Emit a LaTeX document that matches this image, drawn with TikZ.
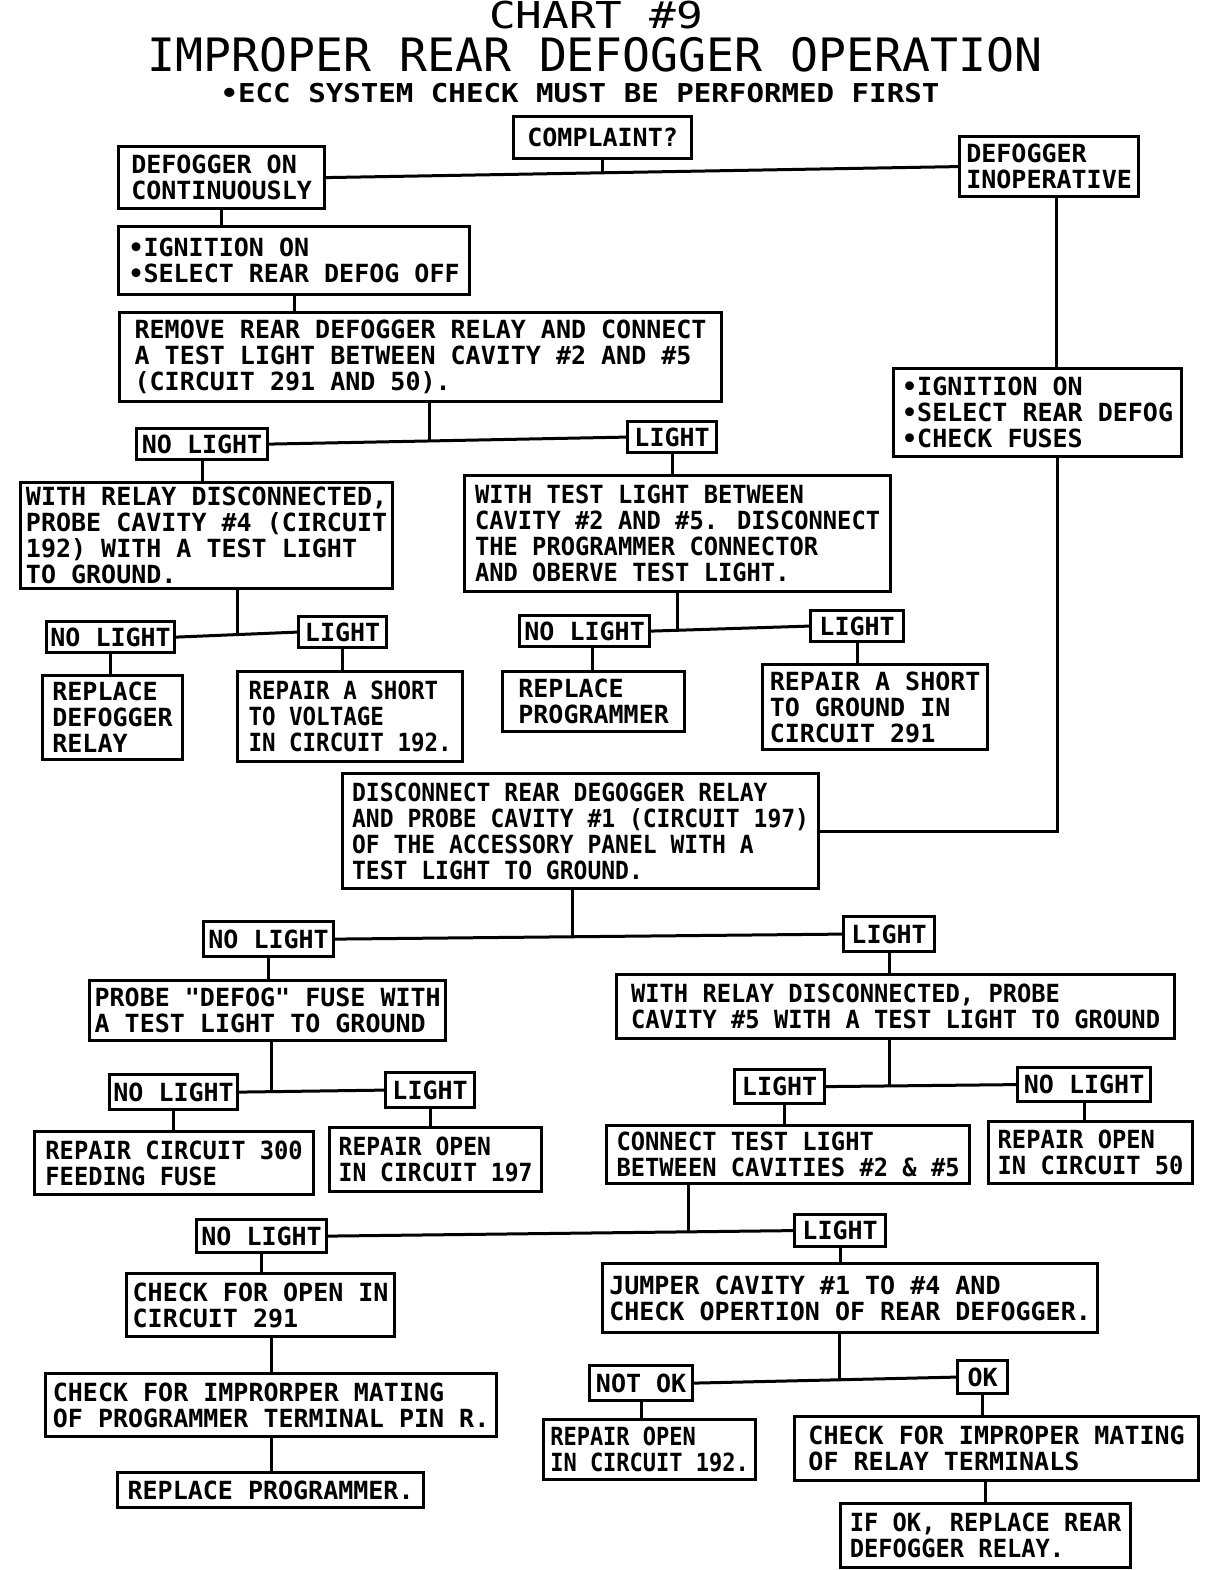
\documentclass[tikz,border=0pt]{standalone}
\usepackage{fontspec}
\usetikzlibrary{calc}
\newfontfamily\dvmbold{DejaVu Sans Mono Bold}
\newfontfamily\dvmchart[FakeStretch=1.2]{DejaVu Sans Mono}
\newfontfamily\dvmhead[FakeStretch=1.01]{DejaVu Sans Mono}
\newfontfamily\dvmsub[FakeStretch=1.12]{DejaVu Sans Mono Bold}
\newcommand\bxfont{\dvmbold\fontsize{25}{26}\selectfont}
\tikzset{
  bx/.style={draw, line width=3.2pt, inner xsep=5pt, inner ysep=3pt, align=left,
             font=\bxfont, anchor=north west},
  lbl/.style={bx, inner xsep=3pt, align=center},
  sq/.style={font={\bxfont\addfontfeature{FakeStretch=#1}}},
  ln/.style={line width=3pt, line cap=rect},
}
\begin{document}
\begin{tikzpicture}[x=1pt,y=-1pt]
\useasboundingbox (0,0) rectangle (1216,1570);
\fill[white] (0,0) rectangle (1216,1570);

% titles
\node[anchor=base, inner sep=0pt, font={\dvmchart\fontsize{37}{39}\selectfont}] (t1) at (596,29) {CHART \#9};
\node[anchor=base, inner sep=0pt, font={\dvmhead\fontsize{46}{48}\selectfont}] (t2) at (595,72) {IMPROPER REAR DEFOGGER OPERATION};
\node[anchor=base, inner sep=0pt, font={\dvmsub\fontsize{26}{28}\selectfont}] (t3) at (580,103) {•ECC SYSTEM CHECK MUST BE PERFORMED FIRST};

% boxes
\node[lbl, minimum width=178pt, minimum height=42pt] (complaint) at (512,115) {COMPLAINT?};
\node[bx, minimum width=206pt, minimum height=62pt] (dcont) at (117,145) {DEFOGGER ON\\CONTINUOUSLY};
\node[bx, minimum width=179pt, minimum height=60pt] (dinop) at (958,135) {DEFOGGER\\INOPERATIVE};
\node[bx, minimum width=351pt, minimum height=68pt] (ign1) at (117,225) {•IGNITION ON\\•SELECT REAR DEFOG OFF};
\node[bx, minimum width=602pt, minimum height=89pt] (remove) at (118,311) {REMOVE REAR DEFOGGER RELAY AND CONNECT\\A TEST LIGHT BETWEEN CAVITY \#2 AND \#5\\(CIRCUIT 291 AND 50).};
\node[lbl, minimum width=131pt, minimum height=31pt] (nl1) at (135,427) {NO LIGHT};
\node[lbl, minimum width=89pt, minimum height=31pt] (l1) at (626,420) {LIGHT};
\node[bx, minimum width=372pt, minimum height=106pt] (probe4) at (19,481) {WITH RELAY DISCONNECTED,\\PROBE CAVITY \#4 (CIRCUIT\\192) WITH A TEST LIGHT\\TO GROUND.};
\node[bx, sq=0.95, minimum width=426pt, minimum height=116pt] (prog) at (463,474) {WITH TEST LIGHT BETWEEN\\CAVITY \#2 AND \#5. DISCONNECT\\THE PROGRAMMER CONNECTOR\\AND OBERVE TEST LIGHT.};
\node[lbl, minimum width=128pt, minimum height=31pt] (nl2) at (45,620) {NO LIGHT};
\node[lbl, minimum width=88pt, minimum height=31pt] (l2) at (297,615) {LIGHT};
\node[bx, minimum width=140pt, minimum height=84pt] (rdr) at (41,674) {REPLACE\\DEFOGGER\\RELAY};
\node[bx, sq=0.9, minimum width=225pt, minimum height=90pt] (rsv) at (236,670) {REPAIR A SHORT\\TO VOLTAGE\\IN CIRCUIT 192.};
\node[lbl, minimum width=130pt, minimum height=31pt] (nl3) at (518,614) {NO LIGHT};
\node[lbl, minimum width=93pt, minimum height=31pt] (l3) at (809,609) {LIGHT};
\node[bx, minimum width=182pt, minimum height=60pt] (rprog) at (501,670) {REPLACE\\PROGRAMMER};
\node[bx, minimum width=225pt, minimum height=85pt] (rsg) at (761,663) {REPAIR A SHORT\\TO GROUND IN\\CIRCUIT 291};
\node[bx, minimum width=288pt, minimum height=88pt] (ign2) at (892,367) {•IGNITION ON\\•SELECT REAR DEFOG\\•CHECK FUSES};
\node[bx, sq=0.92, minimum width=476pt, minimum height=115pt] (disc) at (341,772) {DISCONNECT REAR DEGOGGER RELAY\\AND PROBE CAVITY \#1 (CIRCUIT 197)\\OF THE ACCESSORY PANEL WITH A\\TEST LIGHT TO GROUND.};
\node[lbl, minimum width=130pt, minimum height=35pt] (nl4) at (202,920) {NO LIGHT};
\node[lbl, minimum width=91pt, minimum height=35pt] (l4) at (842,915) {LIGHT};
\node[bx, minimum width=356pt, minimum height=60pt] (fuse) at (88,979) {PROBE "DEFOG" FUSE WITH\\A TEST LIGHT TO GROUND};
\node[bx, sq=0.95, minimum width=558pt, minimum height=64pt] (cav5) at (615,973) {WITH RELAY DISCONNECTED, PROBE\\CAVITY \#5 WITH A TEST LIGHT TO GROUND};
\node[lbl, minimum width=128pt, minimum height=35pt] (nl5) at (108,1073) {NO LIGHT};
\node[lbl, minimum width=89pt, minimum height=35pt] (l5) at (384,1071) {LIGHT};
\node[bx, sq=0.95, minimum width=279pt, minimum height=63pt] (r300) at (33,1130) {REPAIR CIRCUIT 300\\FEEDING FUSE};
\node[bx, sq=0.92, minimum width=212pt, minimum height=64pt] (r197) at (328,1126) {REPAIR OPEN\\IN CIRCUIT 197};
\node[lbl, minimum width=90pt, minimum height=34pt] (l6) at (733,1068) {LIGHT};
\node[lbl, minimum width=133pt, minimum height=34pt] (nl6) at (1016,1066) {NO LIGHT};
\node[bx, sq=0.95, minimum width=363pt, minimum height=58pt] (conn) at (605,1124) {CONNECT TEST LIGHT\\BETWEEN CAVITIES \#2 \& \#5};
\node[bx, sq=0.95, minimum width=204pt, minimum height=62pt] (r50) at (987,1120) {REPAIR OPEN\\IN CIRCUIT 50};
\node[lbl, minimum width=130pt, minimum height=33pt] (nl7) at (195,1218) {NO LIGHT};
\node[lbl, minimum width=91pt, minimum height=32pt] (l7) at (793,1213) {LIGHT};
\node[bx, minimum width=268pt, minimum height=63pt] (c291) at (125,1272) {CHECK FOR OPEN IN\\CIRCUIT 291};
\node[bx, minimum width=495pt, minimum height=69pt] (jump) at (601,1262) {JUMPER CAVITY \#1 TO \#4 AND\\CHECK OPERTION OF REAR DEFOGGER.};
\node[bx, minimum width=451pt, minimum height=63pt] (mate) at (44,1372) {CHECK FOR IMPRORPER MATING\\OF PROGRAMMER TERMINAL PIN R.};
\node[bx, minimum width=306pt, minimum height=35pt] (rprog2) at (116,1471) {REPLACE PROGRAMMER.};
\node[lbl, minimum width=103pt, minimum height=35pt] (notok) at (588,1364) {NOT OK};
\node[lbl, minimum width=50pt, minimum height=33pt] (ok) at (956,1359) {OK};
\node[bx, sq=0.88, minimum width=212pt, minimum height=60pt] (r192) at (542,1418) {REPAIR OPEN\\IN CIRCUIT 192.};
\node[bx, minimum width=404pt, minimum height=64pt] (mrel) at (793,1415) {CHECK FOR IMPROPER MATING\\OF RELAY TERMINALS};
\node[bx, sq=0.95, minimum width=290pt, minimum height=64pt] (final) at (839,1502) {IF OK, REPLACE REAR\\DEFOGGER RELAY.};

% junction points on branch lines
\coordinate (j0) at ($(dcont.east)!0.44!(dinop.west)$);
\coordinate (j1) at ($(nl1.east)!0.45!(l1.west)$);
\coordinate (j2) at ($(nl2.east)!0.52!(l2.west)$);
\coordinate (j3) at ($(nl3.east)!0.17!(l3.west)$);
\coordinate (j4) at ($(nl4.east)!0.47!(l4.west)$);
\coordinate (j5) at ($(nl5.east)!0.23!(l5.west)$);
\coordinate (j6) at ($(l6.east)!0.34!(nl6.west)$);
\coordinate (j7) at ($(nl7.east)!0.77!(l7.west)$);
\coordinate (j8) at ($(notok.east)!0.55!(ok.west)$);

% connectors
\draw[ln] (dcont.east) -- (dinop.west);
\draw[ln] (complaint.south) -- (complaint.south |- j0);
\draw[ln] (dcont.south) -- (dcont.south |- ign1.north);
\draw[ln] (ign1.south) -- (ign1.south |- remove.north);

\draw[ln] (nl1.east) -- (l1.west);
\draw[ln] ([xshift=9pt]remove.south) -- ([xshift=9pt]remove.south |- j1);
\draw[ln] (nl1.south) -- (nl1.south |- probe4.north);
\draw[ln] (l1.south) -- (l1.south |- prog.north);

\draw[ln] (nl2.east) -- (l2.west);
\draw[ln] ([xshift=31pt]probe4.south) -- ([xshift=31pt]probe4.south |- j2);
\draw[ln] (nl2.south) -- (nl2.south |- rdr.north);
\draw[ln] (l2.south) -- (l2.south |- rsv.north);

\draw[ln] (nl3.east) -- (l3.west);
\draw[ln] (prog.south) -- (prog.south |- j3);
\draw[ln] ([xshift=8pt]nl3.south) -- ([xshift=8pt]nl3.south |- rprog.north);
\draw[ln] (l3.south) -- (l3.south |- rsg.north);

\draw[ln] ([xshift=7pt]dinop.south) -- ([xshift=7pt]dinop.south |- ign2.north);
\draw[ln] ([xshift=20pt]ign2.south) -- ([xshift=20pt]ign2.south |- disc.east) -- (disc.east);

\draw[ln] (nl4.east) -- (l4.west);
\draw[ln] ([xshift=-8pt]disc.south) -- ([xshift=-8pt]disc.south |- j4);
\draw[ln] (nl4.south) -- (nl4.south |- fuse.north);
\draw[ln] (l4.south) -- (l4.south |- cav5.north);

\draw[ln] (nl5.east) -- (l5.west);
\draw[ln] ([xshift=4pt]fuse.south) -- ([xshift=4pt]fuse.south |- j5);
\draw[ln] (nl5.south) -- (nl5.south |- r300.north);
\draw[ln] (l5.south) -- (l5.south |- r197.north);

\draw[ln] (l6.east) -- (nl6.west);
\draw[ln] ([xshift=-6pt]cav5.south) -- ([xshift=-6pt]cav5.south |- j6);
\draw[ln] ([xshift=5pt]l6.south) -- ([xshift=5pt]l6.south |- conn.north);
\draw[ln] (nl6.south) -- (nl6.south |- r50.north);

\draw[ln] (nl7.east) -- (l7.west);
\draw[ln] ([xshift=-100pt]conn.south) -- ([xshift=-100pt]conn.south |- j7);
\draw[ln] (nl7.south) -- (nl7.south |- c291.north);
\draw[ln] (l7.south) -- (l7.south |- jump.north);

\draw[ln] ([xshift=11pt]c291.south) -- ([xshift=11pt]c291.south |- mate.north);
\draw[ln] (mate.south) -- (mate.south |- rprog2.north);

\draw[ln] (notok.east) -- (ok.west);
\draw[ln] ([xshift=-11pt]jump.south) -- ([xshift=-11pt]jump.south |- j8);
\draw[ln] (notok.south) -- (notok.south |- r192.north);
\draw[ln] (ok.south) -- (ok.south |- mrel.north);
\draw[ln] ([xshift=-11pt]mrel.south) -- ([xshift=-11pt]mrel.south |- final.north);
\end{tikzpicture}
\end{document}
